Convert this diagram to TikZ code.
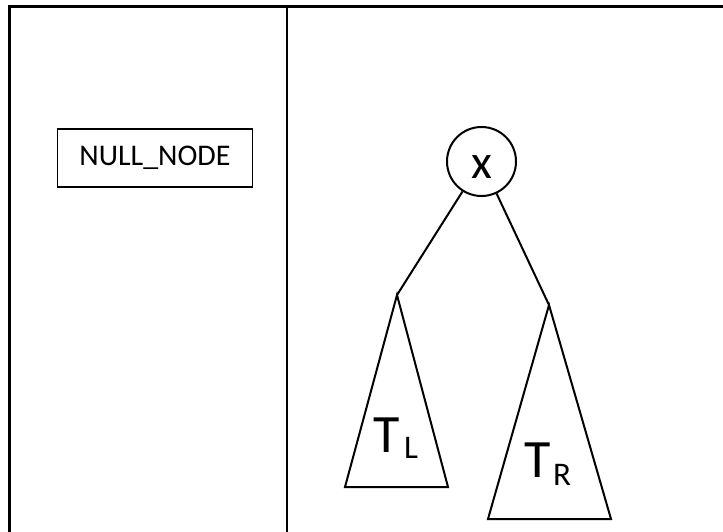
\documentclass[tikz,border=0pt]{standalone}
\usepackage{fontspec}
\setmainfont{Carlito}
\begin{document}
\begin{tikzpicture}[x=1pt,y=-1pt,
  frame/.style={line width=2.2pt,draw=black},
  edge/.style={line width=2pt,draw=black},
  tri/.style={line width=2pt,draw=black,line join=miter},
  boxnode/.style={draw=black,line width=1.6pt,minimum width=195pt,minimum height=58pt,inner sep=0pt,font=\fontsize{30}{36}\selectfont},
  xnode/.style={circle,draw=black,line width=2pt,minimum size=69pt,inner sep=0pt},
  big/.style={inner sep=0pt,anchor=base west,font=\fontsize{54}{60}\selectfont},
  sub/.style={inner sep=0pt,anchor=base west,font=\fontsize{33}{38}\selectfont}]
\useasboundingbox (0,0) rectangle (723,532);
\clip (0,0) rectangle (723,532);
\fill[white] (0,0) rectangle (723,532);
% frame
\draw[frame] (9.5,6.5) rectangle (760,560);
\draw[frame] (287,6.5) -- (287,560);
% null node
\node[boxnode] (null) at (155,158) {NULL\_NODE};
% tree
\node[xnode] (xn) at (481.5,161.5) {};
\node[inner sep=0pt,font=\fontsize{48}{54}\selectfont] (xl) at (481.5,167) {x};
\coordinate (la) at (397,295);
\coordinate (lb1) at (345,487);
\coordinate (lb2) at (448,487);
\coordinate (ra) at (549,305);
\coordinate (rb1) at (488,519);
\coordinate (rb2) at (611,519);
\draw[edge] (xn) -- (la);
\draw[edge] (xn) -- (ra);
\draw[tri] (la) -- (lb1) -- (lb2) -- cycle;
\draw[tri] (ra) -- (rb1) -- (rb2) -- cycle;
\node[big] (tl) at (373,452) {T};
\node[sub] (tls) at (404,458) {L};
\node[big] (tr) at (524,477) {T};
\node[sub] (trs) at (553,485) {R};
\end{tikzpicture}
\end{document}
